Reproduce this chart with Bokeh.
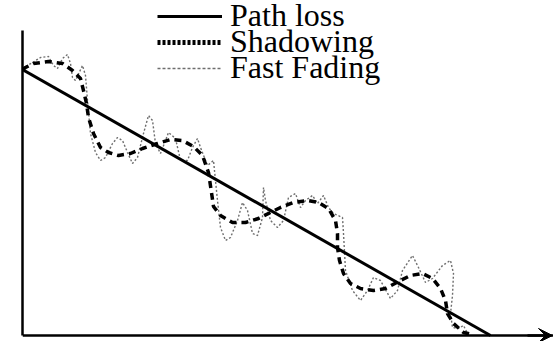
from bokeh.plotting import figure
from bokeh.models import Range1d, Legend, LegendItem, Arrow, VeeHead, FixedTicker
from bokeh.embed import file_html
from bokeh.resources import INLINE

# distance (arbitrary units) and received power (arbitrary units)
distance_pl = [0, 468]
path_loss = [266, 0]

distance_sh = [0, 3, 11, 26, 40, 50, 58, 61, 64, 66, 71, 78, 86, 96, 108, 120, 135, 148,
               160, 171, 180, 186, 189, 191, 198, 210, 223, 236, 248, 258, 271, 285, 296,
               306, 313, 315, 315, 317, 321, 328, 338, 351, 363, 378, 388, 400, 410, 418,
               423, 425, 431, 441, 450]
shadowing = [266, 268, 272, 274, 272, 265, 257, 245, 232, 218, 202, 188, 183, 180, 182, 187,
             192, 196, 195, 189, 180, 163, 143, 129, 120, 113, 113, 117, 123, 128, 133, 135,
             133, 127, 115, 102, 88, 75, 62, 52, 47, 45, 47, 55, 60, 62, 57, 47, 35, 22, 12,
             3, 1]

distance_ff = [0, 10, 18, 26, 31, 35, 40, 45, 48, 50, 53, 60, 63, 65, 68, 73, 78, 83, 90, 95,
               100, 105, 110, 115, 121, 126, 130, 133, 138, 143, 146, 153, 158, 165, 170, 175,
               178, 185, 191, 195, 198, 203, 208, 215, 220, 225, 230, 235, 240, 241, 243, 248,
               255, 261, 266, 273, 278, 283, 290, 295, 301, 306, 311, 320, 321, 323, 330, 338,
               345, 351, 358, 368, 375, 380, 390, 396, 403, 410, 420, 428, 431, 430, 428, 430,
               436, 441, 445]
fast_fading = [267, 273, 278, 279, 270, 267, 277, 281, 272, 258, 255, 270, 260, 235, 202, 183,
               175, 178, 192, 198, 195, 183, 172, 178, 202, 220, 215, 192, 182, 195, 203, 197,
               175, 175, 188, 197, 188, 170, 175, 135, 108, 95, 98, 115, 133, 125, 102, 100,
               118, 148, 135, 115, 108, 115, 138, 142, 128, 135, 140, 132, 140, 128, 122, 118,
               102, 65, 45, 35, 45, 58, 55, 37, 45, 65, 80, 68, 53, 57, 70, 75, 62, 40, 22, 8,
               7, 10, 2]

labels = ["Path loss", "Shadowing", "Fast Fading"]

p = figure(width=553, height=341, output_backend="svg", toolbar_location=None,
           x_range=Range1d(0, 531), y_range=Range1d(-6, 335),
           min_border_left=22, min_border_right=0, min_border_top=0, min_border_bottom=0)
p.outline_line_color = None
p.grid.visible = False
for ax in (p.xaxis[0], p.yaxis[0]):
    ax.ticker = FixedTicker(ticks=[])
    ax.major_label_text_font_size = "0px"
    ax.major_tick_in = 0
    ax.major_tick_out = 0
    ax.minor_tick_in = 0
    ax.minor_tick_out = 0
    ax.major_label_standoff = 0
    ax.axis_line_width = 2.5
    ax.axis_line_color = "black"
p.yaxis.bounds = (0, 305)
p.xaxis.fixed_location = 0

p.add_layout(Arrow(end=VeeHead(size=14, fill_color="black", line_color="black", line_width=1),
                   x_start=505, y_start=0, x_end=530, y_end=0,
                   line_color="black", line_width=2.5))

ff = p.line(distance_ff, fast_fading, line_color="#6e6e6e", line_width=1.4, line_dash="2 2")
sh = p.line(distance_sh, shadowing, line_color="black", line_width=3.5, line_dash="7 5")
pl = p.line(distance_pl, path_loss, line_color="black", line_width=3)

# legend keys (single-point lines draw nothing in the plot, only the legend sample)
sh_key = p.line(distance_sh[:1], shadowing[:1], line_color="black", line_width=5, line_dash="3 2")
ff_key = p.line(distance_ff[:1], fast_fading[:1], line_color="#6e6e6e", line_width=1.4,
                line_dash="3 2")

for lab, rend, ypos in zip(labels, [pl, sh_key, ff_key], [307, 281, 255]):
    lg = Legend(items=[LegendItem(label=lab, renderers=[rend])],
                location=(135, ypos), padding=0, margin=0, spacing=0,
                glyph_width=65, glyph_height=20, label_standoff=8, label_height=20,
                label_text_font="Times New Roman",
                label_text_font_size="32px",
                label_text_color="black", border_line_color=None,
                background_fill_alpha=0)
    p.add_layout(lg)

open("out.html", "w").write(file_html(p, INLINE))
